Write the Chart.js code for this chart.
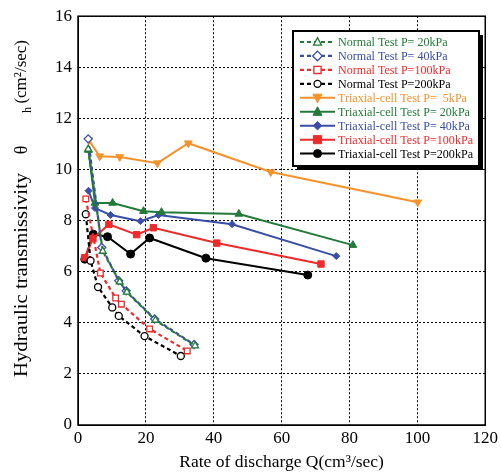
<!DOCTYPE html>
<html>
<head>
<meta charset="utf-8">
<script src="https://cdn.jsdelivr.net/npm/chart.js@4.4.0/dist/chart.umd.min.js"></script>
<style>
  html, body { margin: 0; padding: 0; background: #fff; }
  #wrap { width: 501px; height: 473px; }
</style>
</head>
<body>
<div id="wrap"><canvas id="hydraulicChart" width="501" height="473"></canvas></div>
<script>
// Rate of discharge Q (cm3/sec) and transmissivity (cm2/sec) for every test
const normal20Q = [3.0, 7.3, 12.3, 14.4, 22.8, 34.5];
const normal20T = [10.8, 6.8, 5.6, 5.2, 4.1, 3.1];
const normal40Q = [3.0, 7.0, 12.0, 14.2, 22.6, 34.2];
const normal40T = [11.2, 6.95, 5.65, 5.25, 4.15, 3.15];
const normal100Q = [2.3, 6.6, 11.1, 12.8, 21.1, 32.2];
const normal100T = [8.85, 5.95, 4.97, 4.73, 3.76, 2.9];
const normal200Q = [2.3, 3.7, 5.9, 10.1, 12.0, 19.6, 30.3];
const normal200T = [8.25, 6.43, 5.4, 4.6, 4.27, 3.48, 2.7];

const triax5Q = [3.2, 6.4, 12.3, 23.4, 32.5, 56.8, 100.1];
const triax5T = [11.15, 10.52, 10.49, 10.25, 11.03, 9.9, 8.72];
const triax20Q = [3.1, 5.0, 10.2, 19.3, 24.6, 47.4, 81.0];
const triax20T = [10.76, 8.69, 8.69, 8.37, 8.33, 8.26, 7.04];
const triax40Q = [3.1, 5.0, 9.6, 18.4, 23.7, 45.4, 76.1];
const triax40T = [9.17, 8.49, 8.22, 7.98, 8.22, 7.86, 6.61];
const triax100Q = [2.0, 4.4, 9.1, 17.3, 22.2, 40.9, 71.6];
const triax100T = [6.55, 7.3, 7.85, 7.45, 7.72, 7.12, 6.3];
const triax200Q = [2.0, 4.5, 8.7, 15.5, 21.1, 37.7, 67.7];
const triax200T = [6.49, 7.47, 7.37, 6.69, 7.32, 6.53, 5.87];

const seriesLabels = [
    'Normal Test P= 20kPa', 'Normal Test P= 40kPa', 'Normal Test P=100kPa', 'Normal Test P=200kPa',
    'Triaxial-cell Test P=  5kPa', 'Triaxial-cell Test P= 20kPa', 'Triaxial-cell Test P= 40kPa',
    'Triaxial-cell Test P=100kPa', 'Triaxial-cell Test P=200kPa'
];

const xTicks = [0, 20, 40, 60, 80, 100, 120];
const yTicks = [0, 2, 4, 6, 8, 10, 12, 14, 16];

const ORANGE = '#f7922a';
const GREEN = '#237a3a';
const BLUE = '#3a4ea6';
const RED = '#ee2a2a';
const BLACK = '#000000';

const SERIF = '"Liberation Serif", "Times New Roman", serif';

function toPoints(qs, ts) {
    return qs.map((q, i) => ({ x: q, y: ts[i] }));
}

function normalSet(label, qs, ts, color, style, radius) {
    return {
        label: label,
        data: toPoints(qs, ts),
        borderColor: color,
        borderWidth: 2.2,
        borderDash: [4, 3],
        pointStyle: style,
        pointRadius: radius,
        pointBorderWidth: 1.3,
        pointBorderColor: color,
        pointBackgroundColor: '#fff',
        showLine: true,
        fill: false,
        tension: 0
    };
}

function triaxSet(label, qs, ts, color, style, radius, rotation) {
    return {
        label: label,
        data: toPoints(qs, ts),
        borderColor: color,
        borderWidth: 2,
        pointStyle: style,
        pointRadius: radius,
        pointRotation: rotation || 0,
        pointBorderWidth: 1,
        pointBorderColor: color,
        pointBackgroundColor: color,
        showLine: true,
        fill: false,
        tension: 0
    };
}

const datasets = [
    normalSet(seriesLabels[0], normal20Q, normal20T, GREEN, 'triangle', 4),
    normalSet(seriesLabels[1], normal40Q, normal40T, BLUE, 'rectRot', 4),
    normalSet(seriesLabels[2], normal100Q, normal100T, RED, 'rect', 4),
    normalSet(seriesLabels[3], normal200Q, normal200T, BLACK, 'circle', 3.5),
    triaxSet(seriesLabels[4], triax5Q, triax5T, ORANGE, 'triangle', 4.5, 180),
    triaxSet(seriesLabels[5], triax20Q, triax20T, GREEN, 'triangle', 4.5),
    triaxSet(seriesLabels[6], triax40Q, triax40T, BLUE, 'rectRot', 3.5),
    triaxSet(seriesLabels[7], triax100Q, triax100T, RED, 'rect', 4.5),
    triaxSet(seriesLabels[8], triax200Q, triax200T, BLACK, 'circle', 4)
];

// small marker drawer for the legend samples
function drawMarker(ctx, ds, x, y) {
    const r = ds.pointRadius;
    ctx.save();
    ctx.translate(x, y);
    ctx.rotate((ds.pointRotation || 0) * Math.PI / 180);
    ctx.beginPath();
    if (ds.pointStyle === 'circle') {
        ctx.arc(0, 0, r, 0, Math.PI * 2);
    } else if (ds.pointStyle === 'rect') {
        ctx.rect(-r * 0.9, -r * 0.9, r * 1.8, r * 1.8);
    } else if (ds.pointStyle === 'rectRot') {
        ctx.moveTo(0, -r * 1.2); ctx.lineTo(r * 1.2, 0); ctx.lineTo(0, r * 1.2); ctx.lineTo(-r * 1.2, 0);
    } else {
        ctx.moveTo(0, -r * 1.1); ctx.lineTo(r, r * 0.8); ctx.lineTo(-r, r * 0.8);
    }
    ctx.closePath();
    ctx.fillStyle = ds.pointBackgroundColor;
    ctx.fill();
    ctx.setLineDash([]);
    ctx.lineWidth = ds.pointBorderWidth;
    ctx.strokeStyle = ds.pointBorderColor;
    ctx.stroke();
    ctx.restore();
}

// y title with theta and subscript h, drawn rotated along the left side
function drawYTitle(ctx) {
    ctx.save();
    ctx.translate(22, 0);
    ctx.rotate(-Math.PI / 2);
    ctx.fillStyle = '#000';
    ctx.textBaseline = 'middle';
    ctx.textAlign = 'left';
    // along the rotated x axis, -y of the page
    ctx.font = '18px ' + SERIF;
    const main = 'Hydraulic transmissivity';
    const w = ctx.measureText(main).width;
    ctx.save();
    ctx.translate(-377, 0);
    ctx.scale(Math.min(1.15, 208 / w), 1);
    ctx.fillText(main, 0, 0);
    ctx.restore();
    ctx.textAlign = 'center';
    ctx.fillText('θ', -150, 0);
    ctx.font = '12px ' + SERIF;
    ctx.fillText('h', -110, 6);
    ctx.font = '17px ' + SERIF;
    ctx.textAlign = 'right';
    ctx.fillText('(cm²/sec)', -40, 0);
    ctx.restore();
}

// frame around the plot and the boxed legend in the upper right
const framePlugin = {
    id: 'frameAndLegend',
    afterDraw(chart) {
        const ctx = chart.ctx;
        const a = chart.chartArea;
        ctx.save();
        ctx.strokeStyle = '#000';
        ctx.lineWidth = 1.5;
        ctx.strokeRect(a.left, a.top, a.right - a.left, a.bottom - a.top);

        drawYTitle(ctx);

        // legend box
        const bx = 293, by = 31, bw = 186, bh = 135;
        ctx.fillStyle = '#000';
        ctx.fillRect(bx + 4, by + 4, bw, bh);
        ctx.fillStyle = '#fff';
        ctx.fillRect(bx, by, bw, bh);
        ctx.lineWidth = 2;
        ctx.strokeStyle = '#000';
        ctx.strokeRect(bx, by, bw, bh);

        ctx.font = '13.5px ' + SERIF;
        ctx.textBaseline = 'middle';
        ctx.textAlign = 'left';
        let widest = 0;
        chart.data.datasets.forEach(ds => { widest = Math.max(widest, ctx.measureText(ds.label).width); });
        const squeeze = Math.min(1, 135 / widest);
        chart.data.datasets.forEach((ds, i) => {
            const y = 42 + i * 13.95;
            ctx.beginPath();
            ctx.setLineDash(ds.borderDash || []);
            ctx.strokeStyle = ds.borderColor;
            ctx.lineWidth = ds.borderWidth;
            ctx.moveTo(300, y);
            ctx.lineTo(335, y);
            ctx.stroke();
            ctx.setLineDash([]);
            drawMarker(ctx, ds, 317.5, y);
            ctx.save();
            ctx.translate(338, y + 0.5);
            ctx.scale(squeeze, 1);
            ctx.fillStyle = ds.borderColor;
            ctx.fillText(ds.label, 0, 0);
            ctx.restore();
        });
        ctx.restore();
    }
};

const tickFont = { family: SERIF, size: 17 };
const titleFont = { family: SERIF, size: 17.5 };

new Chart(document.getElementById('hydraulicChart').getContext('2d'), {
    type: 'scatter',
    data: { datasets: datasets },
    options: {
        responsive: false,
        animation: false,
        devicePixelRatio: 1,
        layout: { padding: { top: 16, right: 13, left: 0, bottom: 0 } },
        plugins: {
            legend: { display: false },
            tooltip: { enabled: false }
        },
        scales: {
            x: {
                type: 'linear',
                min: xTicks[0],
                max: xTicks[xTicks.length - 1],
                afterBuildTicks: scale => { scale.ticks = xTicks.map(v => ({ value: v })); },
                afterFit: scale => { scale.height = 48; },
                grid: { color: '#000', lineWidth: 1, drawTicks: false },
                border: { display: true, color: '#000', dash: [2, 2] },
                ticks: { color: '#000', font: tickFont, padding: 3, maxRotation: 0 },
                title: {
                    display: true,
                    text: 'Rate of discharge Q(cm³/sec)',
                    color: '#000',
                    font: titleFont,
                    padding: { top: 0, bottom: 0 }
                }
            },
            y: {
                type: 'linear',
                min: yTicks[0],
                max: yTicks[yTicks.length - 1],
                afterBuildTicks: scale => { scale.ticks = yTicks.map(v => ({ value: v })); },
                afterFit: scale => { scale.width = 78; },
                grid: { color: '#000', lineWidth: 1, drawTicks: false },
                border: { display: true, color: '#000', dash: [2, 2] },
                ticks: { color: '#000', font: tickFont, padding: 6 },
                title: { display: false }
            }
        }
    },
    plugins: [framePlugin]
});
</script>
</body>
</html>
